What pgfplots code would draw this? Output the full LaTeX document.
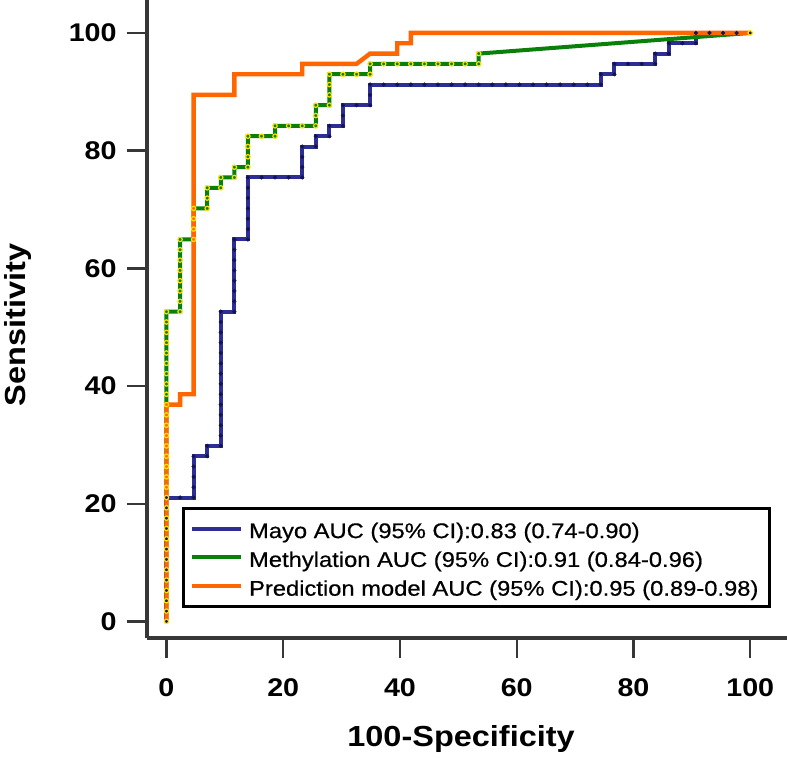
\documentclass[border=0pt]{standalone}
\usepackage{fontspec}
\setmainfont{Liberation Sans}[FakeStretch=1.12]
\newfontfamily\legendfont{Liberation Sans}[FakeStretch=1.12, FakeBold=0.6]
\usepackage{pgfplots}
\pgfplotsset{compat=1.18}
\definecolor{mayo}{RGB}{45,45,150}
\definecolor{mayodot}{RGB}{20,20,80}
\definecolor{meth}{RGB}{10,128,10}
\definecolor{methdot}{RGB}{255,225,0}
\definecolor{pred}{RGB}{255,102,0}
\definecolor{axisgray}{RGB}{55,55,55}
\begin{document}
\begin{tikzpicture}
\path[use as bounding box] (-73.35pt,-59.75pt) rectangle (320.2pt,319.25pt);
\begin{axis}[
  at={(0pt,0pt)}, anchor=south west,
  scale only axis, width=320.2pt, height=319.25pt,
  xmin=-3.39, xmax=106.3, ymin=-2.89, ymax=105.6,
  axis lines*=left,
  axis line style={line width=2pt, color=axisgray, -},
  xtick={0,20,40,60,80,100}, ytick={0,20,40,60,80,100},
  minor tick num=0,
  tick align=outside,
  major tick length=10pt,
  tick style={line width=1.2pt, color=axisgray},
  /pgf/number format/assume math mode=true,
  ticklabel style={font=\bfseries\fontsize{12.8}{15}\selectfont},
  xticklabel style={yshift=-6.7pt},
  yticklabel style={xshift=-1.5pt},
  xlabel={100-Specificity},
  ylabel={Sensitivity},
  label style={font=\bfseries\fontsize{14.5}{17}\selectfont},
  xlabel style={at={(axis description cs:0.491,0)}, anchor=base, yshift=-54.25pt},
  ylabel style={at={(axis description cs:-0.190,0.491)}, anchor=base},
  legend style={at={(axis description cs:0.0547,0.0475)}, anchor=south west,
    draw=black, line width=1.4pt, inner xsep=3.5pt, inner ysep=3pt,
    font=\legendfont\fontsize{10.6}{12}\selectfont, cells={anchor=west}, row sep=0pt,
    column sep=1pt,
    nodes={inner sep=2pt, text height=9.9pt, text depth=0.5pt}},
  legend image code/.code={\draw[line width=2pt] (0pt,0pt) -- (24.5pt,0pt);},
  legend image post style={line width=2pt},
]
\addplot[color=mayo, line width=2pt, mark=*, mark size=0.9pt,
  mark options={fill=mayodot, draw=mayodot, line width=0.3pt}] coordinates {
(0,0) (0,1.75) (0,3.51) (0,5.26) (0,7.02) (0,8.77) (0,10.53) (0,12.28) (0,14.04) (0,15.79) (0,17.54) (0,19.30) (0,21.05)
(2.33,21.05) (4.65,21.05)
(4.65,22.81) (4.65,24.56) (4.65,26.32) (4.65,28.07)
(6.98,28.07) (6.98,29.82)
(9.30,29.82) (9.30,31.58) (9.30,33.33) (9.30,35.09) (9.30,36.84) (9.30,38.60) (9.30,40.35) (9.30,42.11) (9.30,43.86) (9.30,45.61) (9.30,47.37) (9.30,49.12) (9.30,50.88) (9.30,52.63)
(11.63,52.63) (11.63,54.39) (11.63,56.14) (11.63,57.89) (11.63,59.65) (11.63,61.40) (11.63,63.16) (11.63,64.91)
(13.95,64.91) (13.95,66.67) (13.95,68.42) (13.95,70.18) (13.95,71.93) (13.95,73.68) (13.95,75.44)
(16.28,75.44) (18.60,75.44) (20.93,75.44) (23.26,75.44)
(23.26,77.19) (23.26,78.95) (23.26,80.70)
(25.58,80.70) (25.58,82.46)
(27.91,82.46) (27.91,84.21)
(30.23,84.21) (30.23,85.96) (30.23,87.72)
(32.56,87.72) (34.88,87.72)
(34.88,89.47) (34.88,91.23)
(37.21,91.23) (39.53,91.23) (41.86,91.23) (44.19,91.23) (46.51,91.23) (48.84,91.23) (51.16,91.23) (53.49,91.23) (55.81,91.23) (58.14,91.23) (60.47,91.23) (62.79,91.23) (65.12,91.23) (67.44,91.23) (69.77,91.23) (72.09,91.23) (74.42,91.23)
(74.42,92.98)
(76.74,92.98) (76.74,94.74)
(79.07,94.74) (81.40,94.74) (83.72,94.74)
(83.72,96.49)
(86.05,96.49) (86.05,98.25)
(88.37,98.25) (90.70,98.25)
(90.70,100)
(93.02,100) (95.35,100) (97.67,100) (100,100)
};
\addlegendentry{Mayo AUC (95\% CI):0.83 (0.74-0.90)}
\addplot[color=meth, line width=2pt, mark=o, mark size=1.1pt,
  mark options={draw=methdot, line width=0.6pt}] coordinates {
(0,0) (0,1.75) (0,3.51) (0,5.26) (0,7.02) (0,8.77) (0,10.53) (0,12.28) (0,14.04) (0,15.79) (0,17.54) (0,19.30) (0,21.05)
(0,22.81) (0,24.56) (0,26.32) (0,28.07) (0,29.82) (0,31.58) (0,33.33) (0,35.09) (0,36.84) (0,38.60) (0,40.35) (0,42.11) (0,43.86) (0,45.61) (0,47.37) (0,49.12) (0,50.88) (0,52.63)
(2.33,52.63) (2.33,54.39) (2.33,56.14) (2.33,57.89) (2.33,59.65) (2.33,61.40) (2.33,63.16) (2.33,64.91)
(4.65,64.91) (4.65,66.67) (4.65,68.42) (4.65,70.18)
(6.98,70.18) (6.98,71.93) (6.98,73.68)
(9.30,73.68) (9.30,75.44)
(11.63,75.44) (11.63,77.19)
(13.95,77.19) (13.95,78.95) (13.95,80.70) (13.95,82.46)
(16.28,82.46) (18.60,82.46)
(18.60,84.21)
(20.93,84.21) (23.26,84.21) (25.58,84.21)
(25.58,85.96) (25.58,87.72)
(27.91,87.72)
(27.91,89.47) (27.91,91.23) (27.91,92.98)
(30.23,92.98) (32.56,92.98) (34.88,92.98)
(34.88,94.74)
(37.21,94.74) (39.53,94.74) (41.86,94.74) (44.19,94.74) (46.51,94.74) (48.84,94.74) (51.16,94.74) (53.49,94.74)
(53.49,96.49)
(100,100)
};
\addlegendentry{Methylation AUC (95\% CI):0.91 (0.84-0.96)}
\addplot[color=pred, line width=2.2pt] coordinates {
(0,0) (0,36.84) (2.33,36.84) (2.33,38.60) (4.65,38.60) (4.65,89.47) (11.63,89.47) (11.63,92.98) (23.26,92.98) (23.26,94.74) (32.56,94.74) (34.88,96.49) (39.53,96.49) (39.53,98.25) (41.86,98.25) (41.86,100) (100,100)
};
\addlegendentry{Prediction model AUC (95\% CI):0.95 (0.89-0.98)\hspace{15pt}}
\end{axis}
\end{tikzpicture}
\end{document}
